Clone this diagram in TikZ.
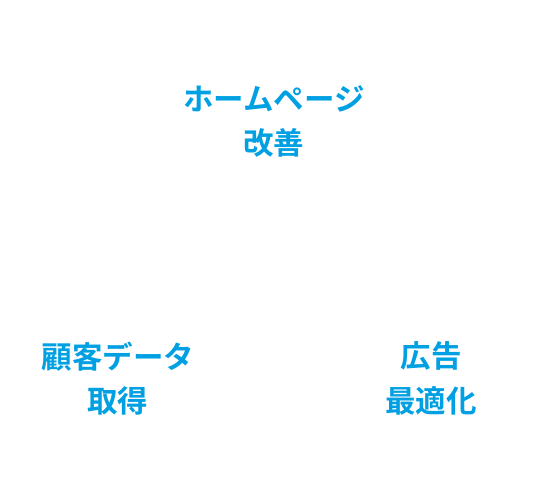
\documentclass[tikz,border=0pt]{standalone}
\usepackage{fontspec}
\newfontfamily\jpfont{Noto Sans CJK JP}[BoldFont={* Bold}]
\usepackage{xcolor}
\usepackage{tikz}
\usetikzlibrary{positioning}
\definecolor{skyblue}{RGB}{0,160,226}

\begin{document}
\begin{tikzpicture}[x=1pt, y=1pt,
  topic/.style={text=skyblue, font=\jpfont\bfseries\fontsize{30.5}{44.5}\selectfont, align=center, inner sep=0pt}]
% Canvas
\useasboundingbox (0,0) rectangle (550,500);

% Three topics
\node[topic] (homepage) at (274,378.5) {ホームページ\\改善};
\node[topic] (customer) at (118,121.5) {顧客データ\\取得};
\node[topic] (ads) at (431,121.5) {広告\\最適化};

\end{tikzpicture}
\end{document}
